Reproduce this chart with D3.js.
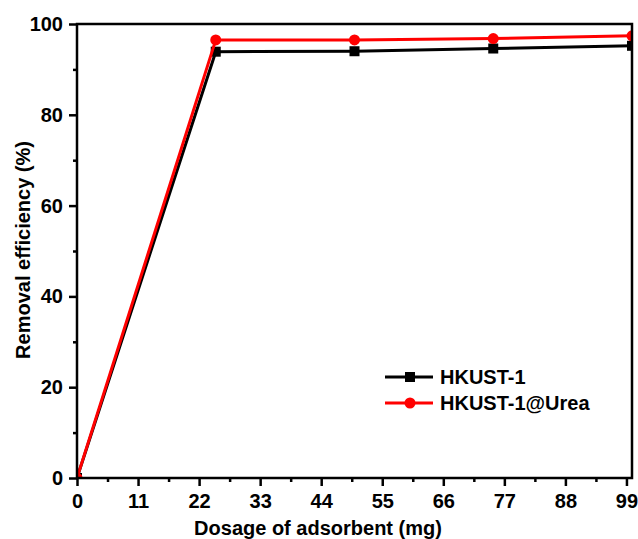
<!DOCTYPE html>
<html>
<head>
<meta charset="utf-8">
<script src="https://cdn.jsdelivr.net/npm/d3@7"></script>
<style>
  body { margin: 0; background: #fff; }
  text { font-family: "Liberation Sans", Arial, sans-serif; font-weight: bold; }
</style>
</head>
<body>
<div id="chart"></div>
<script>
  var w = 638,
      h = 539;

  var margin = {left: 77, right: 6, top: 24, bottom: 61};

  // dosage values (mg)
  var dosage = [0, 25, 50, 75, 100];
  var hkust = [0, 93.9, 94.0, 94.6, 95.2];
  var hkustUrea = [0, 96.5, 96.5, 96.8, 97.4];

  var xTicks = [0, 11, 22, 33, 44, 55, 66, 77, 88, 99];
  var yTicks = [0, 20, 40, 60, 80, 100];

  var series = [
    {name: "HKUST-1", values: hkust, color: "#000000", shape: "square"},
    {name: "HKUST-1@Urea", values: hkustUrea, color: "#ff0000", shape: "circle"}
  ];

  var svg = d3.select("#chart").append("svg")
      .attr("width", w)
      .attr("height", h);

  var x = d3.scaleLinear().domain([0, 100]).range([margin.left, w - margin.right]);
  var y = d3.scaleLinear().domain([0, 100]).range([h - margin.bottom, margin.top]);

  svg.append("clipPath").attr("id", "plot")
    .append("rect")
      .attr("x", margin.left)
      .attr("y", margin.top)
      .attr("width", w - margin.right - margin.left)
      .attr("height", h - margin.bottom - margin.top);

  var g = svg.append("g").attr("clip-path", "url(#plot)");

  var line = d3.line()
      .x(function(d, i){ return x(dosage[i]); })
      .y(function(d){ return y(d); });

  series.forEach(function(s){
    g.append("path")
      .attr("d", line(s.values))
      .attr("fill", "none")
      .attr("stroke", s.color)
      .attr("stroke-width", 3);

    if (s.shape == "square") {
      g.selectAll(".sq").data(s.values).enter().append("rect")
        .attr("x", function(d, i){ return x(dosage[i]) - 5; })
        .attr("y", function(d){ return y(d) - 5; })
        .attr("width", 10)
        .attr("height", 10)
        .attr("fill", s.color);
    } else {
      g.selectAll(".ci").data(s.values).enter().append("circle")
        .attr("cx", function(d, i){ return x(dosage[i]); })
        .attr("cy", function(d){ return y(d); })
        .attr("r", 5.5)
        .attr("fill", s.color);
    }
  });

  // minor ticks
  var xMinor = xTicks.slice(0, -1).map(function(t){ return t + 5.5; });
  var yMinor = [10, 30, 50, 70, 90];

  svg.append("g")
      .attr("transform", "translate(0," + (h - margin.bottom) + ")")
      .call(d3.axisBottom(x).tickValues(xTicks).tickSize(8).tickPadding(8));
  svg.append("g")
      .attr("transform", "translate(0," + (h - margin.bottom) + ")")
      .call(d3.axisBottom(x).tickValues(xMinor).tickSize(4).tickFormat(""));

  svg.append("g")
      .attr("transform", "translate(" + margin.left + ",0)")
      .call(d3.axisLeft(y).tickValues(yTicks).tickSize(8).tickPadding(6));
  svg.append("g")
      .attr("transform", "translate(" + margin.left + ",0)")
      .call(d3.axisLeft(y).tickValues(yMinor).tickSize(4).tickFormat(""));

  svg.selectAll(".tick line").attr("stroke-width", 2.5);
  svg.selectAll(".tick text").style("font-size", "20px").attr("fill", "#000");
  svg.selectAll(".domain").remove();

  // frame
  svg.append("rect")
    .attr("x", margin.left)
    .attr("y", margin.top)
    .attr("width", w - margin.right - margin.left)
    .attr("height", h - margin.bottom - margin.top)
    .attr("fill", "none")
    .attr("stroke", "#000")
    .attr("stroke-width", 2.5);

  svg.append("text")
    .attr("x", 318)
    .attr("y", 535)
    .attr("text-anchor", "middle")
    .style("font-size", "20px")
    .text("Dosage of adsorbent (mg)");

  svg.append("text")
    .attr("transform", "translate(30,250) rotate(-90)")
    .attr("text-anchor", "middle")
    .style("font-size", "20px")
    .text("Removal efficiency (%)");

  // legend
  var legend = svg.append("g");
  series.forEach(function(s, i){
    var ly = 377 + i * 26;
    legend.append("line")
      .attr("x1", 385).attr("x2", 433)
      .attr("y1", ly).attr("y2", ly)
      .attr("stroke", s.color)
      .attr("stroke-width", 3);
    if (s.shape == "square") {
      legend.append("rect")
        .attr("x", 405).attr("y", ly - 5)
        .attr("width", 10).attr("height", 10)
        .attr("fill", s.color);
    } else {
      legend.append("circle")
        .attr("cx", 410).attr("cy", ly)
        .attr("r", 5.5)
        .attr("fill", s.color);
    }
    legend.append("text")
      .attr("x", 440)
      .attr("y", ly + 7)
      .style("font-size", "20px")
      .text(s.name);
  });
</script>
</body>
</html>
